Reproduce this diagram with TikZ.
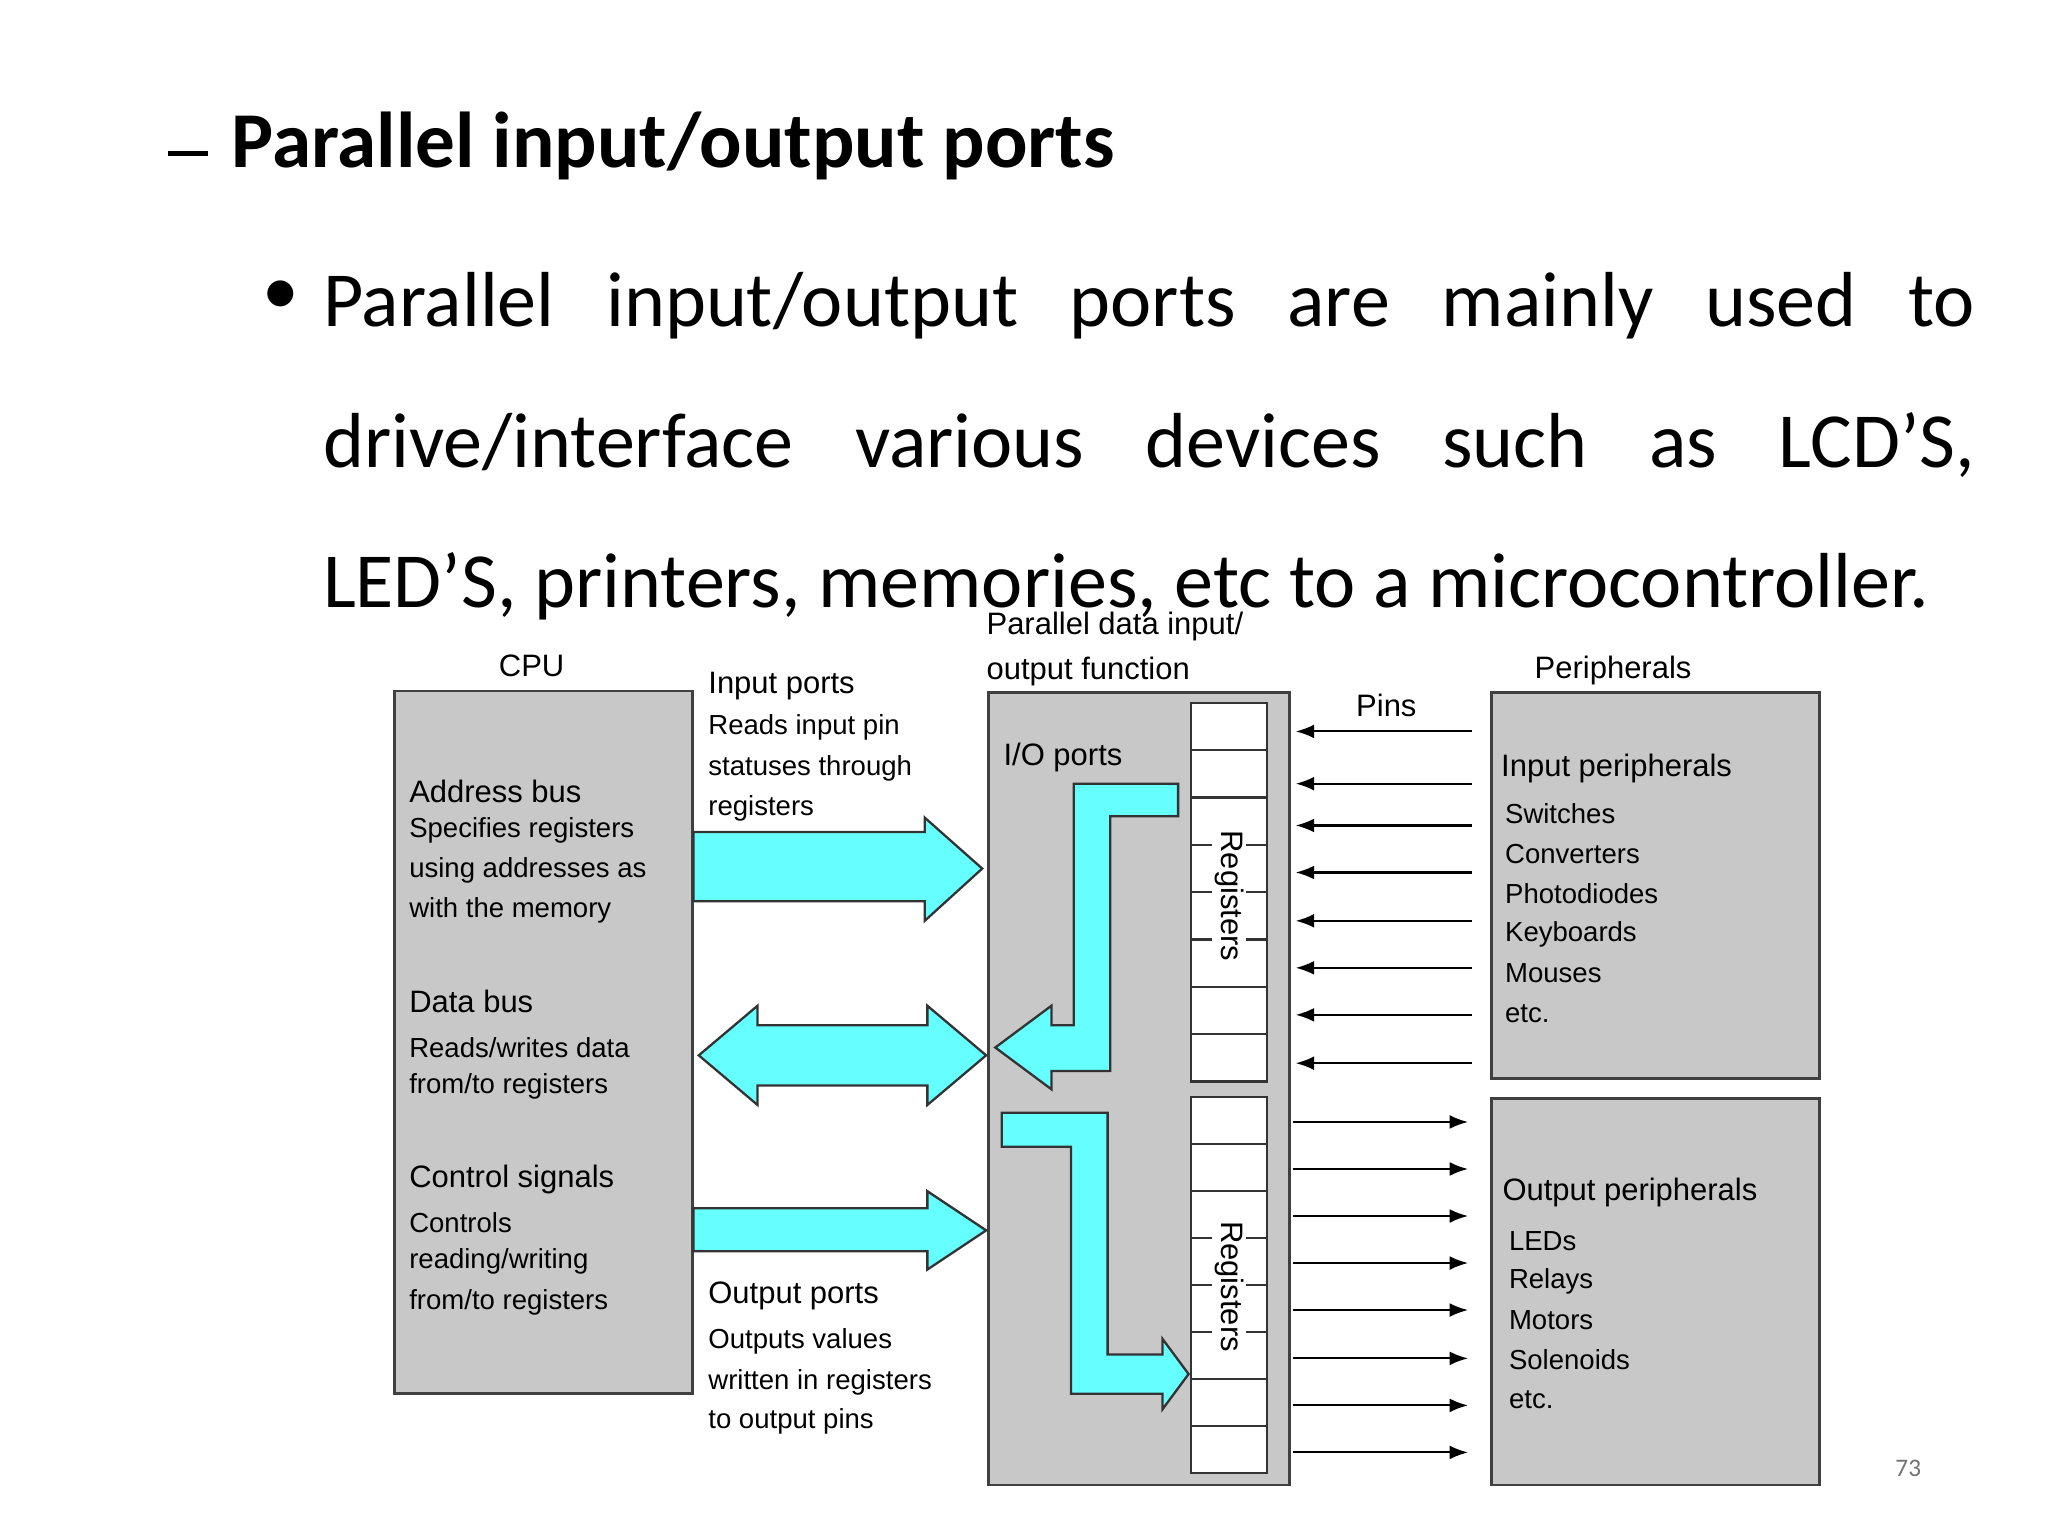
\documentclass[tikz,border=0pt]{standalone}
\usepackage{fontspec}
\setmainfont{Carlito}
\newfontfamily\diagfont{Liberation Sans}
\usetikzlibrary{positioning,arrows.meta}
\definecolor{boxgray}{RGB}{200,200,200}
\definecolor{flowcyan}{RGB}{102,255,255}
\tikzset{
  unit/.style={draw=black!75, line width=1.2pt, fill=boxgray},
  flow/.style={draw=black!80, line width=1pt, fill=flowcyan},
  lbl/.style={anchor=west, inner sep=0pt, font=\diagfont\fontsize{13.5}{15}\selectfont},
  sub/.style={anchor=west, inner sep=0pt, font=\diagfont\fontsize{12}{13}\selectfont},
  pin/.style={-{Latex[length=8pt,width=6pt]}, line width=0.9pt},
  cell/.style={draw=black!80, line width=1pt, fill=white},
  line/.style={anchor=base west, inner sep=0pt, font=\fontsize{34}{40}\selectfont}
}
\begin{document}
\begin{tikzpicture}[x=0.02cm,y=-0.02cm]
        \useasboundingbox (0,0) rectangle (1568,1176);
        % heading and bullet text
        \node[anchor=base west, inner sep=0pt, font=\bfseries\fontsize{34.5}{38}\selectfont] (head) at (128,128) {\rule[0.3ex]{0.62cm}{2.2pt}\hspace{0.36cm}Parallel input/output ports};
        \node[inner sep=0pt, font=\fontsize{32}{36}\selectfont] (dot) at (215,228) {\textbullet};
        \node[line] (l1) at (247,250) {\makebox[25.3cm][s]{Parallel input/output ports are mainly used to}};
        \node[line] (l2) at (247,358) {\makebox[25.3cm][s]{drive/interface various devices such as LCD’S,}};
        \node[line] (l3) at (247,465) {LED’S, printers, memories, etc to a microcontroller.};

        % boxes
        \draw[unit] (302,529) rectangle (530,1067);
        \draw[unit] (757,530) rectangle (987,1137);
        \draw[unit] (1142,530) rectangle (1393,826);
        \draw[unit] (1142,841) rectangle (1393,1137);

        % register cells
        \foreach \i in {0,...,7} {
            \draw[cell] (912,538+36.25*\i) rectangle (970,574.25+36.25*\i);
            \draw[cell] (912,840+36*\i) rectangle (970,876+36*\i);
        }
        \node[rotate=-90, font=\diagfont\fontsize{13.5}{15}\selectfont, fill=white, inner sep=1pt] (regup) at (941,686) {Registers};
        \node[rotate=-90, font=\diagfont\fontsize{13.5}{15}\selectfont, fill=white, inner sep=1pt] (reglo) at (941,985) {Registers};

        % bus arrows
        \draw[flow] (531,637) -- (708,637) -- (708,626) -- (752,665) -- (708,705) -- (708,690) -- (531,690) -- cycle;
        \draw[flow] (535,808) -- (580,770) -- (580,785) -- (710,785) -- (710,770) -- (755,808)
                    -- (710,846) -- (710,831) -- (580,831) -- (580,846) -- cycle;
        \draw[flow] (531,925) -- (710,925) -- (710,912) -- (755,942) -- (710,972) -- (710,958) -- (531,958) -- cycle;
        \draw[flow] (902,600) -- (822,600) -- (822,785) -- (805,785) -- (805,770) -- (762,802) -- (805,834)
                    -- (805,820) -- (850,820) -- (850,625) -- (902,625) -- cycle;
        \draw[flow] (767,852) -- (848,852) -- (848,1037) -- (890,1037) -- (890,1025) -- (910,1052)
                    -- (890,1079) -- (890,1067) -- (820,1067) -- (820,878) -- (767,878) -- cycle;

        % pins
        \foreach \y [count=\n] in {560,600,632,668,705,741,777,814} {
            \coordinate (pinA\n) at (1127,\y);
            \coordinate (regA\n) at (992,\y);
            \draw[pin] (pinA\n) -- (regA\n);
        }
        \foreach \y [count=\n] in {859,895,931,967,1003,1040,1076,1112} {
            \coordinate (regB\n) at (990,\y);
            \coordinate (pinB\n) at (1124,\y);
            \draw[pin] (regB\n) -- (pinB\n);
        }

        % labels
        \node[lbl, anchor=center] at (407,510) {CPU};
        \node[lbl] at (313,606) {Address bus};
        \node[sub] at (313,636) {Specifies registers};
        \node[sub] at (313,666) {using addresses as};
        \node[sub] at (313,697) {with the memory};
        \node[lbl] at (313,767) {Data bus};
        \node[sub] at (313,802) {Reads/writes data};
        \node[sub] at (313,832) {from/to registers};
        \node[lbl] at (313,903) {Control signals};
        \node[sub] at (313,936) {Controls};
        \node[sub] at (313,966) {reading/writing};
        \node[sub] at (313,997) {from/to registers};

        \node[lbl] at (542,525) {Input ports};
        \node[sub] at (542,557) {Reads input pin};
        \node[sub] at (542,588) {statuses through};
        \node[sub] at (542,619) {registers};
        \node[lbl] at (542,992) {Output ports};
        \node[sub] at (542,1027) {Outputs values};
        \node[sub] at (542,1058) {written in registers};
        \node[sub] at (542,1088) {to output pins};

        \node[lbl] at (755,480) {Parallel data input/};
        \node[lbl] at (755,514) {output function};
        \node[lbl] at (768,580) {I/O ports};
        \node[lbl] at (1038,540) {Pins};
        \node[lbl, anchor=center] at (1235,513) {Peripherals};

        \node[lbl] at (1149,588) {Input peripherals};
        \node[sub] at (1152,623) {Switches};
        \node[sub] at (1152,654) {Converters};
        \node[sub] at (1152,684) {Photodiodes};
        \node[sub] at (1152,715) {Keyboards};
        \node[sub] at (1152,745) {Mouses};
        \node[sub] at (1152,776) {etc.};
        \node[lbl] at (1150,913) {Output peripherals};
        \node[sub] at (1155,950) {LEDs};
        \node[sub] at (1155,981) {Relays};
        \node[sub] at (1155,1011) {Motors};
        \node[sub] at (1155,1041) {Solenoids};
        \node[sub] at (1155,1072) {etc.};

        \node[text=black!55, font=\fontsize{11}{13}\selectfont] (page) at (1461,1124) {73};
\end{tikzpicture}
\end{document}
